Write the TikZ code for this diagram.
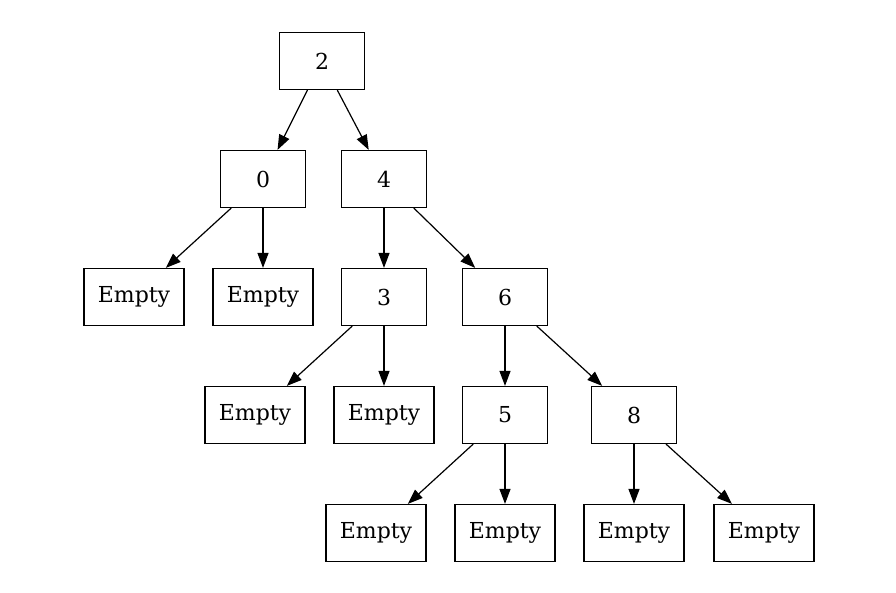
\documentclass[tikz,border=0pt]{standalone}
\usepackage{fontspec}
\setmainfont{DejaVu Serif}
\usetikzlibrary{arrows.meta,positioning}
\tikzset{every picture/.style={line width=1.2pt}}
\tikzstyle{key}=[draw,rectangle,minimum width=85pt,minimum height=57pt,inner sep=0pt]
\tikzstyle{leaf}=[draw,rectangle,minimum width=100pt,minimum height=57pt,inner sep=0pt]

\begin{document}
\begin{tikzpicture}[x=1pt,y=-1pt,font=\fontsize{22}{26}\selectfont]
\useasboundingbox (0,0) rectangle (896,593);
\node[key] (N2) at (322,61) {2};
\node[key] (N0) at (263,179) {0};
\node[key] (N4) at (384,179) {4};
\node[leaf] (E0a) at (134,297) {Empty};
\node[leaf] (E0b) at (263,297) {Empty};
\node[key] (N3) at (384,297) {3};
\node[key] (N6) at (505,297) {6};
\node[leaf] (E3a) at (255,415) {Empty};
\node[leaf] (E3b) at (384,415) {Empty};
\node[key] (N5) at (505,415) {5};
\node[key] (N8) at (634,415) {8};
\node[leaf] (E5a) at (376,533) {Empty};
\node[leaf] (E5b) at (505,533) {Empty};
\node[leaf] (E8a) at (634,533) {Empty};
\node[leaf] (E8b) at (764,533) {Empty};
\path[-{Triangle[length=15pt,width=11pt]}]
(N2) edge (N0)
(N2) edge (N4)
(N0) edge (E0a)
(N0) edge (E0b)
(N4) edge (N3)
(N4) edge (N6)
(N3) edge (E3a)
(N3) edge (E3b)
(N6) edge (N5)
(N6) edge (N8)
(N5) edge (E5a)
(N5) edge (E5b)
(N8) edge (E8a)
(N8) edge (E8b);
\end{tikzpicture}
\end{document}
